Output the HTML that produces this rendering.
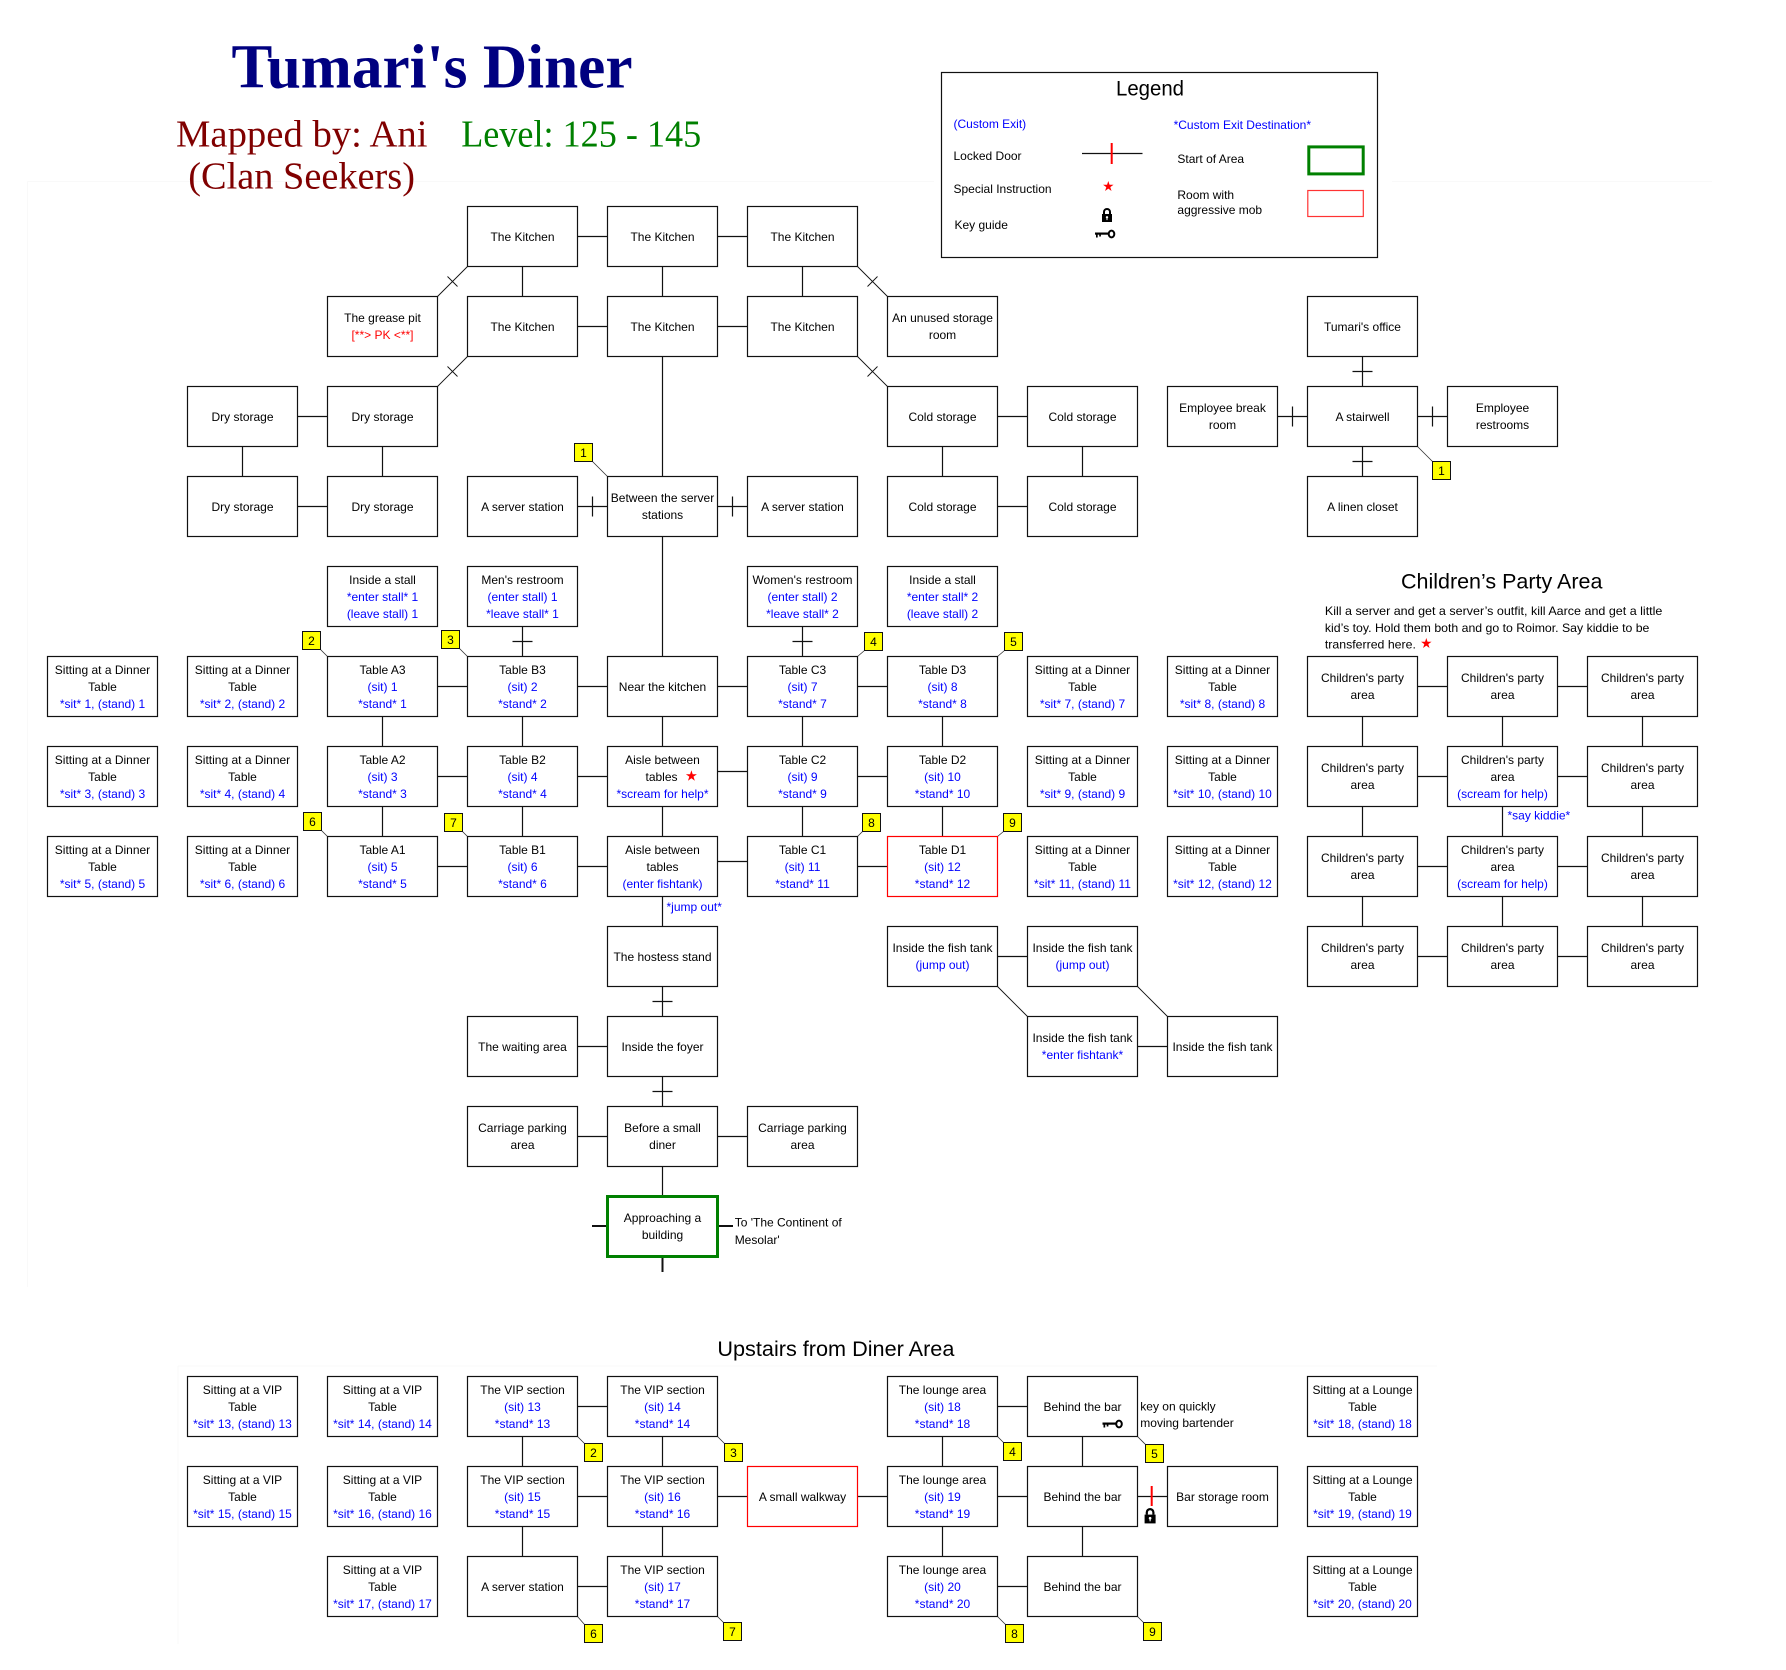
<!DOCTYPE html>
<html><head><meta charset="utf-8"><title>Tumari's Diner</title>
<style>
html,body{margin:0;padding:0;background:#fff;}
svg{display:block;}
text{font-family:"Liberation Sans",Arial,sans-serif;font-size:12px;fill:#000;}
.bx text{text-anchor:middle;}
.bx rect{fill:#fff;stroke:#111;stroke-width:1.2;}
.bx rect.red{stroke:#ff0000;}
.bx rect.grn{stroke:#008000;stroke-width:3;}
.u{fill:#0000ff;}
.r{fill:#ff0000;}
.ln{fill:none;stroke:#111;stroke-width:1.2;}
.dg{fill:none;stroke:#111;stroke-width:0.9;}
.tg rect{fill:#ffff00;stroke:#111;stroke-width:1;}
.tg text{text-anchor:middle;}
.ld{fill:none;stroke:#333;stroke-width:0.8;}
</style></head>
<body>
<svg width="1786" height="1670" viewBox="0 0 1786 1670" xmlns="http://www.w3.org/2000/svg">
<defs>
<polygon id="st" points="0,-1 0.225,-0.309 0.951,-0.309 0.363,0.118 0.588,0.809 0,0.382 -0.588,0.809 -0.363,0.118 -0.951,-0.309 -0.225,-0.309"/>
<g id="lock">
<path d="M3,6 V4 A3,3 0 0 1 9,4 V6" fill="none" stroke="#000" stroke-width="2"/>
<rect x="1" y="6" width="10" height="8" fill="#000"/>
<circle cx="6" cy="9.3" r="1.2" fill="#fff"/>
<rect x="5.5" y="9.5" width="1" height="2.6" fill="#fff"/>
</g>
<g id="key">
<rect x="0" y="2.5" width="13.5" height="2.2" fill="#000"/>
<rect x="1" y="2.5" width="1.7" height="5" fill="#000"/>
<rect x="4.2" y="2.5" width="1.7" height="4" fill="#000"/>
<ellipse cx="16.5" cy="4" rx="2.8" ry="3.4" fill="none" stroke="#000" stroke-width="2"/>
</g>
</defs>

<!-- faint guides -->
<path d="M27.5 181.5H934 M1392 181.5H1712 M27.5 181.5V1287 M178 1366H1437 M178 1366V1644" fill="none" stroke="#f9f9f9" stroke-width="1"/>

<!-- titles -->
<text x="231.5" y="87.5" textLength="401" lengthAdjust="spacingAndGlyphs" style="font-family:'Liberation Serif','Times New Roman',serif;font-size:62px;font-weight:bold;fill:#000080;">Tumari's Diner</text>
<text x="176" y="146.4" textLength="251.5" lengthAdjust="spacingAndGlyphs" style="font-family:'Liberation Serif','Times New Roman',serif;font-size:38px;fill:#800000;">Mapped by: Ani</text>
<text x="188.3" y="188.6" textLength="226.7" lengthAdjust="spacingAndGlyphs" style="font-family:'Liberation Serif','Times New Roman',serif;font-size:38px;fill:#800000;">(Clan Seekers)</text>
<text x="461.2" y="146.4" textLength="240" lengthAdjust="spacingAndGlyphs" style="font-family:'Liberation Serif','Times New Roman',serif;font-size:38px;fill:#008000;">Level: 125 - 145</text>

<!-- legend -->
<rect x="941.5" y="72.5" width="436" height="185" fill="#fff" stroke="#111" stroke-width="1.2"/>
<text x="1116" y="95.7" textLength="68" lengthAdjust="spacingAndGlyphs" style="font-size:21px;">Legend</text>
<text x="953.5" y="128" class="u">(Custom Exit)</text>
<text x="1173.6" y="129" class="u">*Custom Exit Destination*</text>
<text x="953.5" y="160">Locked Door</text>
<path d="M1082 153.5H1142.5" stroke="#111" stroke-width="1.2"/>
<path d="M1111.7 143V164" stroke="#ff0000" stroke-width="2"/>
<text x="1177.4" y="163">Start of Area</text>
<rect x="1308.8" y="146.9" width="54.4" height="27" fill="none" stroke="#008000" stroke-width="3"/>
<text x="953.5" y="193">Special Instruction</text>
<use href="#st" fill="#ff0000" transform="translate(1108.3,186.5) scale(5.5)"/>
<text x="1177.4" y="199">Room with</text>
<text x="1177.4" y="214">aggressive mob</text>
<rect x="1307.8" y="190.5" width="55.5" height="26" fill="none" stroke="#ff3333" stroke-width="1.2"/>
<text x="954.5" y="229">Key guide</text>
<use href="#lock" transform="translate(1101,208)"/>
<use href="#key" transform="translate(1095,230)"/>

<!-- connectors -->
<path class="ln" d="
M577.5 236.5H607.5 M717.5 236.5H747.5
M522.5 266.5V296.5 M662.5 266.5V296.5 M802.5 266.5V296.5
M577.5 326.5H607.5 M717.5 326.5H747.5
M662.5 356.5V476.5
M297.5 416.5H327.5 M242.5 446.5V476.5 M382.5 446.5V476.5 M297.5 506.5H327.5
M577.5 506.5H607.5 M592.5 496.5V516.5 M717.5 506.5H747.5 M732.5 496.5V516.5
M997.5 416.5H1027.5 M942.5 446.5V476.5 M1082.5 446.5V476.5 M997.5 506.5H1027.5
M662.5 536.5V656.5
M1362.5 356.5V386.5 M1352.5 371.5H1372.5 M1277.5 416.5H1307.5 M1292.5 406.5V426.5 M1417.5 416.5H1447.5 M1432.5 406.5V426.5 M1362.5 446.5V476.5 M1352.5 461.5H1372.5
M522.5 626.5V656.5 M512.5 641.5H532.5 M802.5 626.5V656.5 M792.5 641.5H812.5
M437.5 686.5H467.5 M577.5 686.5H607.5 M717.5 686.5H747.5 M857.5 686.5H887.5
M382.5 716.5V746.5 M522.5 716.5V746.5 M662.5 716.5V746.5 M802.5 716.5V746.5 M942.5 716.5V746.5
M437.5 776.5H467.5 M577.5 776.5H607.5 M717.5 771.5H747.5 M857.5 776.5H887.5
M382.5 806.5V836.5 M522.5 806.5V836.5 M662.5 806.5V836.5 M802.5 806.5V836.5 M942.5 806.5V836.5
M437.5 866.5H467.5 M577.5 866.5H607.5 M717.5 861.5H747.5 M857.5 866.5H887.5
M662.5 896.5V926.5
M997.5 956.5H1027.5 M1137.5 1046.5H1167.5
M662.5 986.5V1016.5 M652.5 1001.5H672.5 M577.5 1046.5H607.5 M662.5 1076.5V1106.5 M652.5 1091.5H672.5 M577.5 1136.5H607.5 M717.5 1136.5H747.5 M662.5 1166.5V1196.5
M1417.5 686.5H1447.5 M1557.5 686.5H1587.5 M1362.5 716.5V746.5 M1502.5 716.5V746.5 M1642.5 716.5V746.5
M1417.5 776.5H1447.5 M1557.5 776.5H1587.5 M1362.5 806.5V836.5 M1502.5 806.5V836.5 M1642.5 806.5V836.5
M1417.5 866.5H1447.5 M1557.5 866.5H1587.5 M1362.5 896.5V926.5 M1502.5 896.5V926.5 M1642.5 896.5V926.5
M1417.5 956.5H1447.5 M1557.5 956.5H1587.5
M577.5 1406.5H607.5 M522.5 1436.5V1466.5 M662.5 1436.5V1466.5 M577.5 1496.5H607.5 M522.5 1526.5V1556.5 M662.5 1526.5V1556.5 M577.5 1586.5H607.5
M717.5 1496.5H747.5 M857.5 1496.5H887.5
M942.5 1436.5V1466.5 M942.5 1526.5V1556.5 M997.5 1406.5H1027.5 M997.5 1496.5H1027.5 M997.5 1586.5H1027.5
M1082.5 1436.5V1466.5 M1082.5 1526.5V1556.5 M1137.5 1496.5H1167.5
"/>
<path class="dg" d="M467.5 266.5L437.5 296.5 M447.5 276.5L457.5 286.5 M467.5 356.5L437.5 386.5 M447.5 366.5L457.5 376.5 M857.5 266.5L887.5 296.5 M877.5 276.5L867.5 286.5 M857.5 356.5L887.5 386.5 M877.5 366.5L867.5 376.5 M997.5 986.5L1027.5 1016.5 M1137.5 986.5L1167.5 1016.5"/>
<path d="M592 1226H607 M718 1226H733 M662.5 1257V1272" fill="none" stroke="#111" stroke-width="2"/>
<path d="M1151.7 1486V1506" stroke="#ff0000" stroke-width="2"/>
<use href="#lock" transform="translate(1143.5,1508) scale(1.1)"/>

<!-- leaders -->
<path class="ld" d="M592.5 461.5L607.5 476.5 M1417.5 446.5L1432.5 461.5 M320.5 649.5L327.5 656.5 M459.5 648.5L467.5 656.5 M857.5 656.5L864.5 650.5 M997.5 656.5L1004.5 650.5 M321.5 830.5L327.5 836.5 M462.5 831.5L467.5 836.5 M857.5 836.5L862.5 831.5 M997.5 836.5L1003.5 831.5 M577.5 1436.5L584.5 1443.5 M717.5 1436.5L724.5 1443.5 M997.5 1436.5L1003.5 1442.5 M1137.5 1436.5L1145.5 1444.5 M577.5 1616.5L584.5 1624.5 M717.5 1616.5L723.5 1622.5 M997.5 1616.5L1005.5 1624.5 M1137.5 1616.5L1143.5 1622.5"/>

<g class="bx">
<!-- row 0 -->
<g transform="translate(467.5,206.5)"><rect width="110" height="60"/><text x="55" y="34.5">The Kitchen</text></g>
<g transform="translate(607.5,206.5)"><rect width="110" height="60"/><text x="55" y="34.5">The Kitchen</text></g>
<g transform="translate(747.5,206.5)"><rect width="110" height="60"/><text x="55" y="34.5">The Kitchen</text></g>
<!-- row 1 -->
<g transform="translate(327.5,296.5)"><rect width="110" height="60"/><text x="55" y="25.5">The grease pit</text><text x="55" y="42.5" class="r">[**&gt; PK &lt;**]</text></g>
<g transform="translate(467.5,296.5)"><rect width="110" height="60"/><text x="55" y="34.5">The Kitchen</text></g>
<g transform="translate(607.5,296.5)"><rect width="110" height="60"/><text x="55" y="34.5">The Kitchen</text></g>
<g transform="translate(747.5,296.5)"><rect width="110" height="60"/><text x="55" y="34.5">The Kitchen</text></g>
<g transform="translate(887.5,296.5)"><rect width="110" height="60"/><text x="55" y="25.5">An unused storage</text><text x="55" y="42.5">room</text></g>
<g transform="translate(1307.5,296.5)"><rect width="110" height="60"/><text x="55" y="34.5">Tumari's office</text></g>
<!-- row 2 -->
<g transform="translate(187.5,386.5)"><rect width="110" height="60"/><text x="55" y="34.5">Dry storage</text></g>
<g transform="translate(327.5,386.5)"><rect width="110" height="60"/><text x="55" y="34.5">Dry storage</text></g>
<g transform="translate(887.5,386.5)"><rect width="110" height="60"/><text x="55" y="34.5">Cold storage</text></g>
<g transform="translate(1027.5,386.5)"><rect width="110" height="60"/><text x="55" y="34.5">Cold storage</text></g>
<g transform="translate(1167.5,386.5)"><rect width="110" height="60"/><text x="55" y="25.5">Employee break</text><text x="55" y="42.5">room</text></g>
<g transform="translate(1307.5,386.5)"><rect width="110" height="60"/><text x="55" y="34.5">A stairwell</text></g>
<g transform="translate(1447.5,386.5)"><rect width="110" height="60"/><text x="55" y="25.5">Employee</text><text x="55" y="42.5">restrooms</text></g>
<!-- row 3 -->
<g transform="translate(187.5,476.5)"><rect width="110" height="60"/><text x="55" y="34.5">Dry storage</text></g>
<g transform="translate(327.5,476.5)"><rect width="110" height="60"/><text x="55" y="34.5">Dry storage</text></g>
<g transform="translate(467.5,476.5)"><rect width="110" height="60"/><text x="55" y="34.5">A server station</text></g>
<g transform="translate(607.5,476.5)"><rect width="110" height="60"/><text x="55" y="25.5">Between the server</text><text x="55" y="42.5">stations</text></g>
<g transform="translate(747.5,476.5)"><rect width="110" height="60"/><text x="55" y="34.5">A server station</text></g>
<g transform="translate(887.5,476.5)"><rect width="110" height="60"/><text x="55" y="34.5">Cold storage</text></g>
<g transform="translate(1027.5,476.5)"><rect width="110" height="60"/><text x="55" y="34.5">Cold storage</text></g>
<g transform="translate(1307.5,476.5)"><rect width="110" height="60"/><text x="55" y="34.5">A linen closet</text></g>
<!-- row 4 -->
<g transform="translate(327.5,566.5)"><rect width="110" height="60"/><text x="55" y="17.5">Inside a stall</text><text x="55" y="34.5" class="u">*enter stall* 1</text><text x="55" y="51.5" class="u">(leave stall) 1</text></g>
<g transform="translate(467.5,566.5)"><rect width="110" height="60"/><text x="55" y="17.5">Men's restroom</text><text x="55" y="34.5" class="u">(enter stall) 1</text><text x="55" y="51.5" class="u">*leave stall* 1</text></g>
<g transform="translate(747.5,566.5)"><rect width="110" height="60"/><text x="55" y="17.5">Women's restroom</text><text x="55" y="34.5" class="u">(enter stall) 2</text><text x="55" y="51.5" class="u">*leave stall* 2</text></g>
<g transform="translate(887.5,566.5)"><rect width="110" height="60"/><text x="55" y="17.5">Inside a stall</text><text x="55" y="34.5" class="u">*enter stall* 2</text><text x="55" y="51.5" class="u">(leave stall) 2</text></g>
<!-- row 5 -->
<g transform="translate(47.5,656.5)"><rect width="110" height="60"/><text x="55" y="17.5">Sitting at a Dinner</text><text x="55" y="34.5">Table</text><text x="55" y="51.5" class="u">*sit* 1, (stand) 1</text></g>
<g transform="translate(187.5,656.5)"><rect width="110" height="60"/><text x="55" y="17.5">Sitting at a Dinner</text><text x="55" y="34.5">Table</text><text x="55" y="51.5" class="u">*sit* 2, (stand) 2</text></g>
<g transform="translate(327.5,656.5)"><rect width="110" height="60"/><text x="55" y="17.5">Table A3</text><text x="55" y="34.5" class="u">(sit) 1</text><text x="55" y="51.5" class="u">*stand* 1</text></g>
<g transform="translate(467.5,656.5)"><rect width="110" height="60"/><text x="55" y="17.5">Table B3</text><text x="55" y="34.5" class="u">(sit) 2</text><text x="55" y="51.5" class="u">*stand* 2</text></g>
<g transform="translate(607.5,656.5)"><rect width="110" height="60"/><text x="55" y="34.5">Near the kitchen</text></g>
<g transform="translate(747.5,656.5)"><rect width="110" height="60"/><text x="55" y="17.5">Table C3</text><text x="55" y="34.5" class="u">(sit) 7</text><text x="55" y="51.5" class="u">*stand* 7</text></g>
<g transform="translate(887.5,656.5)"><rect width="110" height="60"/><text x="55" y="17.5">Table D3</text><text x="55" y="34.5" class="u">(sit) 8</text><text x="55" y="51.5" class="u">*stand* 8</text></g>
<g transform="translate(1027.5,656.5)"><rect width="110" height="60"/><text x="55" y="17.5">Sitting at a Dinner</text><text x="55" y="34.5">Table</text><text x="55" y="51.5" class="u">*sit* 7, (stand) 7</text></g>
<g transform="translate(1167.5,656.5)"><rect width="110" height="60"/><text x="55" y="17.5">Sitting at a Dinner</text><text x="55" y="34.5">Table</text><text x="55" y="51.5" class="u">*sit* 8, (stand) 8</text></g>
<g transform="translate(1307.5,656.5)"><rect width="110" height="60"/><text x="55" y="25.5">Children's party</text><text x="55" y="42.5">area</text></g>
<g transform="translate(1447.5,656.5)"><rect width="110" height="60"/><text x="55" y="25.5">Children's party</text><text x="55" y="42.5">area</text></g>
<g transform="translate(1587.5,656.5)"><rect width="110" height="60"/><text x="55" y="25.5">Children's party</text><text x="55" y="42.5">area</text></g>
<!-- row 6 -->
<g transform="translate(47.5,746.5)"><rect width="110" height="60"/><text x="55" y="17.5">Sitting at a Dinner</text><text x="55" y="34.5">Table</text><text x="55" y="51.5" class="u">*sit* 3, (stand) 3</text></g>
<g transform="translate(187.5,746.5)"><rect width="110" height="60"/><text x="55" y="17.5">Sitting at a Dinner</text><text x="55" y="34.5">Table</text><text x="55" y="51.5" class="u">*sit* 4, (stand) 4</text></g>
<g transform="translate(327.5,746.5)"><rect width="110" height="60"/><text x="55" y="17.5">Table A2</text><text x="55" y="34.5" class="u">(sit) 3</text><text x="55" y="51.5" class="u">*stand* 3</text></g>
<g transform="translate(467.5,746.5)"><rect width="110" height="60"/><text x="55" y="17.5">Table B2</text><text x="55" y="34.5" class="u">(sit) 4</text><text x="55" y="51.5" class="u">*stand* 4</text></g>
<g transform="translate(607.5,746.5)"><rect width="110" height="60"/><text x="55" y="17.5">Aisle between</text><text x="54" y="34.5">tables</text><text x="55" y="51.5" class="u">*scream for help*</text></g>
<g transform="translate(747.5,746.5)"><rect width="110" height="60"/><text x="55" y="17.5">Table C2</text><text x="55" y="34.5" class="u">(sit) 9</text><text x="55" y="51.5" class="u">*stand* 9</text></g>
<g transform="translate(887.5,746.5)"><rect width="110" height="60"/><text x="55" y="17.5">Table D2</text><text x="55" y="34.5" class="u">(sit) 10</text><text x="55" y="51.5" class="u">*stand* 10</text></g>
<g transform="translate(1027.5,746.5)"><rect width="110" height="60"/><text x="55" y="17.5">Sitting at a Dinner</text><text x="55" y="34.5">Table</text><text x="55" y="51.5" class="u">*sit* 9, (stand) 9</text></g>
<g transform="translate(1167.5,746.5)"><rect width="110" height="60"/><text x="55" y="17.5">Sitting at a Dinner</text><text x="55" y="34.5">Table</text><text x="55" y="51.5" class="u">*sit* 10, (stand) 10</text></g>
<g transform="translate(1307.5,746.5)"><rect width="110" height="60"/><text x="55" y="25.5">Children's party</text><text x="55" y="42.5">area</text></g>
<g transform="translate(1447.5,746.5)"><rect width="110" height="60"/><text x="55" y="17.5">Children's party</text><text x="55" y="34.5">area</text><text x="55" y="51.5" class="u">(scream for help)</text></g>
<g transform="translate(1587.5,746.5)"><rect width="110" height="60"/><text x="55" y="25.5">Children's party</text><text x="55" y="42.5">area</text></g>
<!-- row 7 -->
<g transform="translate(47.5,836.5)"><rect width="110" height="60"/><text x="55" y="17.5">Sitting at a Dinner</text><text x="55" y="34.5">Table</text><text x="55" y="51.5" class="u">*sit* 5, (stand) 5</text></g>
<g transform="translate(187.5,836.5)"><rect width="110" height="60"/><text x="55" y="17.5">Sitting at a Dinner</text><text x="55" y="34.5">Table</text><text x="55" y="51.5" class="u">*sit* 6, (stand) 6</text></g>
<g transform="translate(327.5,836.5)"><rect width="110" height="60"/><text x="55" y="17.5">Table A1</text><text x="55" y="34.5" class="u">(sit) 5</text><text x="55" y="51.5" class="u">*stand* 5</text></g>
<g transform="translate(467.5,836.5)"><rect width="110" height="60"/><text x="55" y="17.5">Table B1</text><text x="55" y="34.5" class="u">(sit) 6</text><text x="55" y="51.5" class="u">*stand* 6</text></g>
<g transform="translate(607.5,836.5)"><rect width="110" height="60"/><text x="55" y="17.5">Aisle between</text><text x="55" y="34.5">tables</text><text x="55" y="51.5" class="u">(enter fishtank)</text></g>
<g transform="translate(747.5,836.5)"><rect width="110" height="60"/><text x="55" y="17.5">Table C1</text><text x="55" y="34.5" class="u">(sit) 11</text><text x="55" y="51.5" class="u">*stand* 11</text></g>
<g transform="translate(887.5,836.5)"><rect class="red" width="110" height="60"/><text x="55" y="17.5">Table D1</text><text x="55" y="34.5" class="u">(sit) 12</text><text x="55" y="51.5" class="u">*stand* 12</text></g>
<g transform="translate(1027.5,836.5)"><rect width="110" height="60"/><text x="55" y="17.5">Sitting at a Dinner</text><text x="55" y="34.5">Table</text><text x="55" y="51.5" class="u">*sit* 11, (stand) 11</text></g>
<g transform="translate(1167.5,836.5)"><rect width="110" height="60"/><text x="55" y="17.5">Sitting at a Dinner</text><text x="55" y="34.5">Table</text><text x="55" y="51.5" class="u">*sit* 12, (stand) 12</text></g>
<g transform="translate(1307.5,836.5)"><rect width="110" height="60"/><text x="55" y="25.5">Children's party</text><text x="55" y="42.5">area</text></g>
<g transform="translate(1447.5,836.5)"><rect width="110" height="60"/><text x="55" y="17.5">Children's party</text><text x="55" y="34.5">area</text><text x="55" y="51.5" class="u">(scream for help)</text></g>
<g transform="translate(1587.5,836.5)"><rect width="110" height="60"/><text x="55" y="25.5">Children's party</text><text x="55" y="42.5">area</text></g>
<!-- row 8 -->
<g transform="translate(607.5,926.5)"><rect width="110" height="60"/><text x="55" y="34.5">The hostess stand</text></g>
<g transform="translate(887.5,926.5)"><rect width="110" height="60"/><text x="55" y="25.5">Inside the fish tank</text><text x="55" y="42.5" class="u">(jump out)</text></g>
<g transform="translate(1027.5,926.5)"><rect width="110" height="60"/><text x="55" y="25.5">Inside the fish tank</text><text x="55" y="42.5" class="u">(jump out)</text></g>
<g transform="translate(1307.5,926.5)"><rect width="110" height="60"/><text x="55" y="25.5">Children's party</text><text x="55" y="42.5">area</text></g>
<g transform="translate(1447.5,926.5)"><rect width="110" height="60"/><text x="55" y="25.5">Children's party</text><text x="55" y="42.5">area</text></g>
<g transform="translate(1587.5,926.5)"><rect width="110" height="60"/><text x="55" y="25.5">Children's party</text><text x="55" y="42.5">area</text></g>
<!-- row 9 -->
<g transform="translate(467.5,1016.5)"><rect width="110" height="60"/><text x="55" y="34.5">The waiting area</text></g>
<g transform="translate(607.5,1016.5)"><rect width="110" height="60"/><text x="55" y="34.5">Inside the foyer</text></g>
<g transform="translate(1027.5,1016.5)"><rect width="110" height="60"/><text x="55" y="25.5">Inside the fish tank</text><text x="55" y="42.5" class="u">*enter fishtank*</text></g>
<g transform="translate(1167.5,1016.5)"><rect width="110" height="60"/><text x="55" y="34.5">Inside the fish tank</text></g>
<!-- row 10 -->
<g transform="translate(467.5,1106.5)"><rect width="110" height="60"/><text x="55" y="25.5">Carriage parking</text><text x="55" y="42.5">area</text></g>
<g transform="translate(607.5,1106.5)"><rect width="110" height="60"/><text x="55" y="25.5">Before a small</text><text x="55" y="42.5">diner</text></g>
<g transform="translate(747.5,1106.5)"><rect width="110" height="60"/><text x="55" y="25.5">Carriage parking</text><text x="55" y="42.5">area</text></g>
<!-- row 11 -->
<g transform="translate(607.5,1196.5)"><rect class="grn" width="110" height="60"/><text x="55" y="25.5">Approaching a</text><text x="55" y="42.5">building</text></g>

<!-- upstairs u0 -->
<g transform="translate(187.5,1376.5)"><rect width="110" height="60"/><text x="55" y="17.5">Sitting at a VIP</text><text x="55" y="34.5">Table</text><text x="55" y="51.5" class="u">*sit* 13, (stand) 13</text></g>
<g transform="translate(327.5,1376.5)"><rect width="110" height="60"/><text x="55" y="17.5">Sitting at a VIP</text><text x="55" y="34.5">Table</text><text x="55" y="51.5" class="u">*sit* 14, (stand) 14</text></g>
<g transform="translate(467.5,1376.5)"><rect width="110" height="60"/><text x="55" y="17.5">The VIP section</text><text x="55" y="34.5" class="u">(sit) 13</text><text x="55" y="51.5" class="u">*stand* 13</text></g>
<g transform="translate(607.5,1376.5)"><rect width="110" height="60"/><text x="55" y="17.5">The VIP section</text><text x="55" y="34.5" class="u">(sit) 14</text><text x="55" y="51.5" class="u">*stand* 14</text></g>
<g transform="translate(887.5,1376.5)"><rect width="110" height="60"/><text x="55" y="17.5">The lounge area</text><text x="55" y="34.5" class="u">(sit) 18</text><text x="55" y="51.5" class="u">*stand* 18</text></g>
<g transform="translate(1027.5,1376.5)"><rect width="110" height="60"/><text x="55" y="34.5">Behind the bar</text></g>
<g transform="translate(1307.5,1376.5)"><rect width="110" height="60"/><text x="55" y="17.5">Sitting at a Lounge</text><text x="55" y="34.5">Table</text><text x="55" y="51.5" class="u">*sit* 18, (stand) 18</text></g>
<!-- u1 -->
<g transform="translate(187.5,1466.5)"><rect width="110" height="60"/><text x="55" y="17.5">Sitting at a VIP</text><text x="55" y="34.5">Table</text><text x="55" y="51.5" class="u">*sit* 15, (stand) 15</text></g>
<g transform="translate(327.5,1466.5)"><rect width="110" height="60"/><text x="55" y="17.5">Sitting at a VIP</text><text x="55" y="34.5">Table</text><text x="55" y="51.5" class="u">*sit* 16, (stand) 16</text></g>
<g transform="translate(467.5,1466.5)"><rect width="110" height="60"/><text x="55" y="17.5">The VIP section</text><text x="55" y="34.5" class="u">(sit) 15</text><text x="55" y="51.5" class="u">*stand* 15</text></g>
<g transform="translate(607.5,1466.5)"><rect width="110" height="60"/><text x="55" y="17.5">The VIP section</text><text x="55" y="34.5" class="u">(sit) 16</text><text x="55" y="51.5" class="u">*stand* 16</text></g>
<g transform="translate(747.5,1466.5)"><rect class="red" width="110" height="60"/><text x="55" y="34.5">A small walkway</text></g>
<g transform="translate(887.5,1466.5)"><rect width="110" height="60"/><text x="55" y="17.5">The lounge area</text><text x="55" y="34.5" class="u">(sit) 19</text><text x="55" y="51.5" class="u">*stand* 19</text></g>
<g transform="translate(1027.5,1466.5)"><rect width="110" height="60"/><text x="55" y="34.5">Behind the bar</text></g>
<g transform="translate(1167.5,1466.5)"><rect width="110" height="60"/><text x="55" y="34.5">Bar storage room</text></g>
<g transform="translate(1307.5,1466.5)"><rect width="110" height="60"/><text x="55" y="17.5">Sitting at a Lounge</text><text x="55" y="34.5">Table</text><text x="55" y="51.5" class="u">*sit* 19, (stand) 19</text></g>
<!-- u2 -->
<g transform="translate(327.5,1556.5)"><rect width="110" height="60"/><text x="55" y="17.5">Sitting at a VIP</text><text x="55" y="34.5">Table</text><text x="55" y="51.5" class="u">*sit* 17, (stand) 17</text></g>
<g transform="translate(467.5,1556.5)"><rect width="110" height="60"/><text x="55" y="34.5">A server station</text></g>
<g transform="translate(607.5,1556.5)"><rect width="110" height="60"/><text x="55" y="17.5">The VIP section</text><text x="55" y="34.5" class="u">(sit) 17</text><text x="55" y="51.5" class="u">*stand* 17</text></g>
<g transform="translate(887.5,1556.5)"><rect width="110" height="60"/><text x="55" y="17.5">The lounge area</text><text x="55" y="34.5" class="u">(sit) 20</text><text x="55" y="51.5" class="u">*stand* 20</text></g>
<g transform="translate(1027.5,1556.5)"><rect width="110" height="60"/><text x="55" y="34.5">Behind the bar</text></g>
<g transform="translate(1307.5,1556.5)"><rect width="110" height="60"/><text x="55" y="17.5">Sitting at a Lounge</text><text x="55" y="34.5">Table</text><text x="55" y="51.5" class="u">*sit* 20, (stand) 20</text></g>
</g>

<!-- icons inside boxes -->
<use href="#key" transform="translate(1102.5,1420)"/>
<use href="#st" fill="#ff0000" transform="translate(691.4,776) scale(5.8)"/>
<use href="#st" fill="#ff0000" transform="translate(1426.3,643.5) scale(5.5)"/>

<!-- free labels -->
<text x="666.5" y="911" class="u">*jump out*</text>
<text x="1507.5" y="819.6" class="u">*say kiddie*</text>
<text x="734.7" y="1226.7">To 'The Continent of</text>
<text x="734.7" y="1244">Mesolar'</text>
<text x="1140.3" y="1410.5">key on quickly</text>
<text x="1140.3" y="1427">moving bartender</text>

<!-- section headers -->
<text x="1401" y="588.7" textLength="201.4" lengthAdjust="spacingAndGlyphs" style="font-size:21.5px;">Children’s Party Area</text>
<text x="1324.9" y="615" textLength="337.5" lengthAdjust="spacingAndGlyphs">Kill a server and get a server’s outfit, kill Aarce and get a little</text>
<text x="1324.9" y="631.8" textLength="324.5" lengthAdjust="spacingAndGlyphs">kid’s toy. Hold them both and go to Roimor. Say kiddie to be</text>
<text x="1324.9" y="648.6" textLength="91" lengthAdjust="spacingAndGlyphs">transferred here.</text>
<text x="717.4" y="1356" textLength="237" lengthAdjust="spacingAndGlyphs" style="font-size:21.5px;">Upstairs from Diner Area</text>

<!-- tags -->
<g class="tg">
<g transform="translate(574.5,443.5)"><rect width="18" height="18"/><text x="9" y="13.5">1</text></g>
<g transform="translate(1432.5,461.5)"><rect width="18" height="18"/><text x="9" y="13.5">1</text></g>
<g transform="translate(302.5,631.5)"><rect width="18" height="18"/><text x="9" y="13.5">2</text></g>
<g transform="translate(441.5,630.5)"><rect width="18" height="18"/><text x="9" y="13.5">3</text></g>
<g transform="translate(864.5,632.5)"><rect width="18" height="18"/><text x="9" y="13.5">4</text></g>
<g transform="translate(1004.5,632.5)"><rect width="18" height="18"/><text x="9" y="13.5">5</text></g>
<g transform="translate(303.5,812.5)"><rect width="18" height="18"/><text x="9" y="13.5">6</text></g>
<g transform="translate(444.5,813.5)"><rect width="18" height="18"/><text x="9" y="13.5">7</text></g>
<g transform="translate(862.5,813.5)"><rect width="18" height="18"/><text x="9" y="13.5">8</text></g>
<g transform="translate(1003.5,813.5)"><rect width="18" height="18"/><text x="9" y="13.5">9</text></g>
<g transform="translate(584.5,1443.5)"><rect width="18" height="18"/><text x="9" y="13.5">2</text></g>
<g transform="translate(724.5,1443.5)"><rect width="18" height="18"/><text x="9" y="13.5">3</text></g>
<g transform="translate(1003.5,1442.5)"><rect width="18" height="18"/><text x="9" y="13.5">4</text></g>
<g transform="translate(1145.5,1444.5)"><rect width="18" height="18"/><text x="9" y="13.5">5</text></g>
<g transform="translate(584.5,1624.5)"><rect width="18" height="18"/><text x="9" y="13.5">6</text></g>
<g transform="translate(723.5,1622.5)"><rect width="18" height="18"/><text x="9" y="13.5">7</text></g>
<g transform="translate(1005.5,1624.5)"><rect width="18" height="18"/><text x="9" y="13.5">8</text></g>
<g transform="translate(1143.5,1622.5)"><rect width="18" height="18"/><text x="9" y="13.5">9</text></g>
</g>
</svg>
</body></html>
